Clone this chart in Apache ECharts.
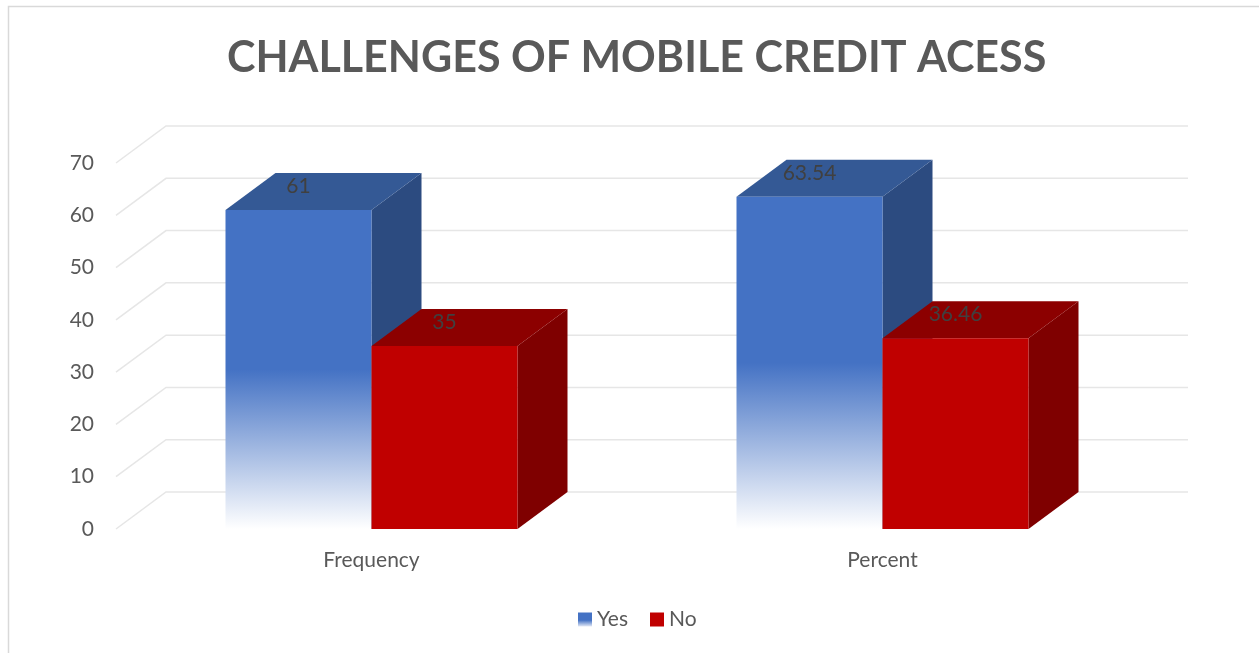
<!DOCTYPE html>
<html>
<head>
<meta charset="utf-8">
<script src="https://cdn.jsdelivr.net/npm/echarts@6/dist/echarts.min.js"></script>
<style>
html,body{margin:0;padding:0;background:#fff;}
#chart{width:1259px;height:653px;}
</style>
</head>
<body>
<div id="chart"></div>
<script>
const categories = ['Frequency', 'Percent'];
const yesValues = [61, 63.54];
const noValues = [35, 36.46];
const yTicks = [0, 10, 20, 30, 40, 50, 60, 70];
const seriesNames = ['Yes', 'No'];

const DX = 50, DY = -37;
const BAR_FRAC = 146 / 511;
const FONT = 'Lato, "Open Sans", sans-serif';

const yesFrontGrad = new echarts.graphic.LinearGradient(0, 0, 0, 1, [
  {offset: 0, color: '#4472C4'},
  {offset: 0.5, color: '#4472C4'},
  {offset: 1, color: '#ffffff'}
]);
const yesLegendGrad = new echarts.graphic.LinearGradient(0, 0, 0, 1, [
  {offset: 0, color: '#4472C4'},
  {offset: 0.55, color: '#4472C4'},
  {offset: 1, color: '#e3e9f6'}
]);

function barRenderer(side, colors) {
  return function (params, api) {
    const ci = api.value(0);
    const v = api.value(1);
    const base = api.coord([ci, 0]);
    const top = api.coord([ci, v]);
    const bw = api.size([1, 0])[0] * BAR_FRAC;
    const cx = base[0];
    const x0 = side === 'left' ? cx - bw : cx;
    const x1 = x0 + bw;
    const yb = base[1], yt = top[1];
    return {
      type: 'group',
      children: [
        {type: 'polygon', shape: {points: [[x1, yt], [x1 + DX, yt + DY], [x1 + DX, yb + DY], [x1, yb]]},
          style: {fill: colors.side}},
        {type: 'polygon', shape: {points: [[x0, yt], [x0 + DX, yt + DY], [x1 + DX, yt + DY], [x1, yt]]},
          style: {fill: colors.top}},
        {type: 'rect', shape: {x: x0, y: yt, width: bw, height: yb - yt},
          style: {fill: colors.front}},
        {type: 'text', style: {text: String(v), x: (x0 + x1) / 2, y: yt - 24,
          align: 'center', verticalAlign: 'middle', fill: '#404040', font: '21px ' + FONT}}
      ]
    };
  };
}

const chart = echarts.init(document.getElementById('chart'), null, {renderer: 'canvas'});
chart.setOption({
  backgroundColor: '#ffffff',
  animation: false,
  title: {
    text: 'CHALLENGES OF MOBILE CREDIT ACESS',
    left: 227,
    top: 33,
    padding: 0,
    textStyle: {fontFamily: FONT, fontWeight: 'bold', fontSize: 43, color: '#595959', lineHeight: 50}
  },
  legend: {
    data: seriesNames,
    left: 578,
    top: 609,
    padding: 0,
    itemWidth: 14,
    itemHeight: 14,
    itemGap: 22,
    icon: 'rect',
    textStyle: {fontFamily: FONT, fontSize: 21, color: '#595959'}
  },
  grid: {left: 116, right: 121, top: 163, bottom: 124},
  xAxis: {
    type: 'category',
    data: categories,
    axisLine: {show: false},
    axisTick: {show: false},
    axisLabel: {fontFamily: FONT, fontSize: 21, color: '#595959', margin: 21},
    splitLine: {show: false}
  },
  yAxis: {
    type: 'value',
    min: 0, max: 70, interval: 10,
    axisLine: {show: false},
    axisTick: {show: false},
    splitLine: {show: false},
    axisLabel: {fontFamily: FONT, fontSize: 21, color: '#595959', margin: 22}
  },
  graphic: [{
    type: 'rect', shape: {x: 8.5, y: 6.5, width: 1300, height: 700},
    style: {fill: 'none', stroke: '#d9d9d9', lineWidth: 1.5}, silent: true, z: -1
  }],
  series: [
    {
      type: 'custom', name: 'grid3d', z: 1, silent: true,
      data: yTicks.map(t => [0, t]),
      renderItem: function (params, api) {
        const cs = params.coordSys;
        const y = api.coord([0, api.value(1)])[1];
        const xl = cs.x;
        const xr = cs.x + cs.width;
        return {type: 'polyline', shape: {points: [[xl, y], [xl + DX, y + DY], [xr + DX, y + DY]]},
          style: {stroke: '#e6e6e6', lineWidth: 1.5, fill: 'none'}};
      }
    },
    {
      type: 'custom', name: 'Yes', z: 2,
      itemStyle: {color: yesLegendGrad},
      data: yesValues.map((v, i) => [i, v]),
      renderItem: barRenderer('left', {front: yesFrontGrad, top: '#345995', side: '#2C4B80'})
    },
    {
      type: 'custom', name: 'No', z: 3,
      itemStyle: {color: '#C00000'},
      data: noValues.map((v, i) => [i, v]),
      renderItem: barRenderer('right', {front: '#C00000', top: '#8C0000', side: '#7F0000'})
    }
  ]
});
</script>
</body>
</html>
